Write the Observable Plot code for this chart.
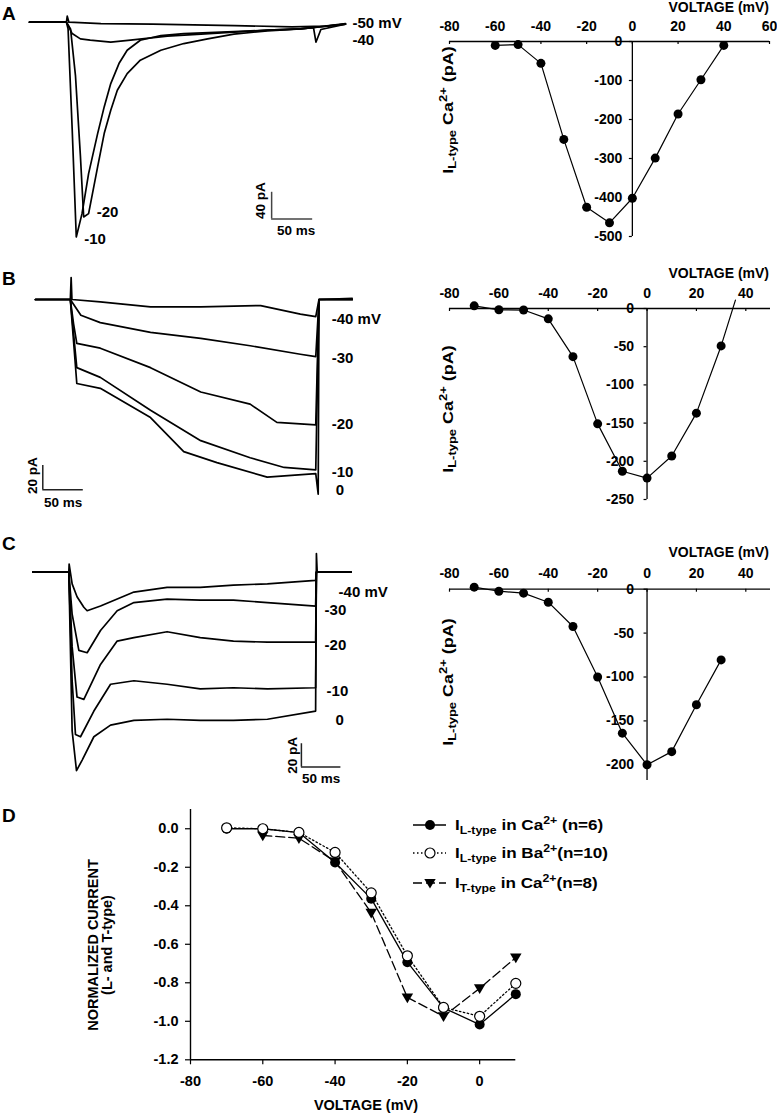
<!DOCTYPE html>
<html><head><meta charset="utf-8">
<script src="https://cdn.jsdelivr.net/npm/d3@7"></script>
<script src="https://cdn.jsdelivr.net/npm/@observablehq/plot@0.6"></script>
<style>
body{margin:0;background:#fff;}
#page{position:relative;width:777px;height:1115px;overflow:hidden;background:#fff;font-family:"Liberation Sans",Arial,sans-serif;font-weight:bold;color:#000;}
.lbl{position:absolute;white-space:nowrap;font-weight:bold;line-height:1;}
.lbl sub,.lbl sup{font-size:72%;line-height:0;}
.lbl sub{vertical-align:-0.35em;}
.lbl sup{vertical-align:0.55em;}
</style></head><body><div id="page"></div>
<script>
// ---------------- DATA ----------------
// Panel A traces (t in ms, I in pA)
const traceA_m50 = [[0,0],[45,0],[46,9],[48,0],[87,-2],[150,-3],[250,-5],[320,-7],[360,-6],[385,-2]];
const traceA_m40 = [[0,0],[45,0],[52,-17],[62,-25],[74,-27],[99,-30],[123,-27],[168,-21],[209,-18],[249,-15],[290,-12],[330,-10],[346,-8],[349,-30],[355,-11],[385,-3]];
const traceA_m20 = [[0,0],[45,0],[50,-10],[56,-80],[62,-200],[66,-292],[72,-287],[83,-217],[91,-167],[99,-132],[107,-102],[119,-77],[135,-57],[160,-42],[188,-32],[217,-25],[249,-18],[290,-13],[330,-10],[385,-3]];
const traceA_m10 = [[0,0],[45,0],[47,-10],[52,-160],[57,-322],[64,-287],[72,-227],[83,-167],[91,-127],[99,-92],[109,-62],[119,-42],[135,-27],[160,-20],[188,-17],[249,-14],[290,-12],[330,-10],[385,-3]];
// Panel B traces
const traceB_m40 = [[0,0],[43,0],[44,18],[45,0],[80,-2],[142,-6],[204,-6],[278,-5],[327,-12],[346,-14],[350,0],[391,1]];
const traceB_m30 = [[0,0],[43,0],[56,-13],[80,-19],[142,-27],[204,-32],[265,-38],[327,-45],[346,-47],[350,0],[391,0]];
const traceB_m20 = [[0,0],[43,0],[47,-20],[51,-36],[80,-40],[142,-56],[204,-76],[265,-86],[298,-101],[346,-103],[350,0],[391,0]];
const traceB_m10 = [[0,0],[43,0],[51,-56],[80,-64],[142,-91],[204,-116],[265,-130],[307,-138],[346,-140],[350,0],[391,0]];
const traceB_0   = [[0,0],[43,0],[51,-69],[80,-73],[142,-97],[183,-125],[224,-134],[286,-146],[346,-143],[349,-160],[350,0],[391,0]];
// Panel C traces
const traceC_m40 = [[0,0],[45.6,0],[46,7],[49.8,-10],[56,-21],[64.6,-30],[68.8,-33],[85.7,-29],[128,-17],[170,-13],[212,-13],[254,-11],[297,-10],[358,-7],[359,0],[403,0]];
const traceC_m30 = [[0,0],[45.6,0],[49.8,-36],[58.3,-67],[68.8,-69],[85.7,-50],[106.8,-33],[128,-26],[170,-23],[212,-24],[254,-24],[297,-26],[358,-29],[359,0],[403,0]];
const traceC_m20 = [[0,0],[45.6,0],[49.8,-64],[56,-107],[64.6,-109],[85.7,-79],[106.8,-59],[128,-56],[170,-51],[212,-56],[254,-59],[297,-60],[358,-60],[359,0],[403,0]];
const traceC_m10 = [[0,0],[45.6,0],[49.8,-93],[54,-139],[60.4,-141],[77.3,-119],[98.4,-96],[128,-93],[170,-96],[212,-100],[254,-99],[297,-100],[358,-99],[359,0],[403,0]];
const traceC_0   = [[0,0],[45.6,0],[49.8,-136],[55.3,-170],[62.5,-161],[77.3,-141],[98.4,-131],[128,-127],[170,-126],[212,-127],[254,-127],[297,-126],[358,-119],[359,16],[360,0],[403,0]];

// I-V curves (mV, pA)
const ivA_volt = [-60,-50,-40,-30,-20,-10,0,10,20,30,40];
const ivA_curr = [-10,-8,-56,-251,-425,-465,-402,-299,-186,-98,-10];
const ivB_volt = [-70,-60,-50,-40,-30,-20,-10,0,10,20,30];
const ivB_curr = [3.5,-1.7,-2,-13.5,-63,-151,-213,-222,-193,-137,-49];
const ivB_ext  = [{v:35.8, i:11}];
const ivC_volt = [-70,-60,-50,-40,-30,-20,-10,0,10,20,30];
const ivC_curr = [2.3,-2.3,-4.5,-14.8,-42.5,-100,-164,-200,-185,-131.6,-80.5];

const ivA_xTicks = [-80,-60,-40,-20,0,20,40,60];
const ivA_yTicks = [0,-100,-200,-300,-400,-500];
const ivBC_xTicks = [-80,-60,-40,-20,0,20,40];
const ivB_yTicks = [0,-50,-100,-150,-200,-250];
const ivC_yTicks = [0,-50,-100,-150,-200];

// Panel D normalized I-V
const dVolt   = [-70,-60,-50,-40,-30,-20,-10,0,10];
const dCaL    = [0.0,0.0,-0.02,-0.175,-0.363,-0.693,-0.93,-1.017,-0.859];
const dBaL    = [0.005,0.0,-0.019,-0.123,-0.333,-0.66,-0.928,-0.974,-0.803];
const dTVolt  = [-60,-50,-40,-30,-20,-10,0,10];
const dTCa    = [-0.035,-0.049,-0.17,-0.436,-0.876,-0.974,-0.829,-0.669];
const dXTicks = [-80,-60,-40,-20,0];
const dYTicks = [0,-0.2,-0.4,-0.6,-0.8,-1.0,-1.2];

// ---------------- RENDERING ----------------
const page = document.getElementById("page");
const FONT = '"Liberation Sans", Arial, sans-serif';

function layer(opts){
  const svg = Plot.plot({width:777, height:1115, margin:0, ...opts,
    style:{background:"transparent", fontFamily:FONT, fontSize:"14px", fontWeight:"bold", overflow:"visible"}});
  svg.style.position = "absolute"; svg.style.left = "0"; svg.style.top = "0";
  page.appendChild(svg);
}
function label(html, x, y, {size=14, anchor="start", rotate=0, lh=1, sx=1}={}){
  const d = document.createElement("div");
  d.className = "lbl"; d.innerHTML = html;
  d.style.left = x+"px"; d.style.top = y+"px"; d.style.fontSize = size+"px"; d.style.lineHeight = lh;
  const tx = anchor==="start" ? "0" : anchor==="middle" ? "-50%" : "-100%";
  if (anchor==="start") d.style.transformOrigin = "0 50%";
  d.style.transform = `translate(${tx},-50%)` + (rotate ? ` rotate(${rotate}deg)` : "") + (sx!==1 ? ` scaleX(${sx})` : "");
  if (lh !== 1) d.style.textAlign = "center";
  page.appendChild(d);
}
const per = (dom, rng) => Math.abs((dom[1]-dom[0])/(rng[1]-rng[0])); // data units per px

// ---- Trace panels ----
function traceLayer({traces, xDomain, xRange, yDomain, yRange, bar, barColor, labels}){
  const marks = [];
  for (const tr of traces) marks.push(Plot.line(tr.data, {x:d=>d[0], y:d=>d[1], stroke:"black", strokeWidth:1.7, strokeLinejoin:"round"}));
  marks.push(Plot.ruleX([bar], {x:d=>d.t, y1:d=>d.i, y2:d=>d.i+d.di, stroke:barColor, strokeWidth:1.5}));
  marks.push(Plot.ruleY([bar], {y:d=>d.i, x1:d=>d.t, x2:d=>d.t+d.dt, stroke:barColor, strokeWidth:1.5}));
  marks.push(Plot.text([bar], {x:d=>d.t, y:d=>d.i+d.di/2, text:d=>d.diText, rotate:-90, dx:bar.ldx, dy:bar.ldy, fontSize:13.5, fontWeight:"bold", fill:"black"}));
  marks.push(Plot.text([bar], {x:d=>d.t+d.dt/2, y:d=>d.i, text:d=>d.dtText, dx:bar.tdx, dy:bar.tdy, fontSize:13.5, fontWeight:"bold", fill:"black"}));
  for (const lb of labels){
    const tr = traces.find(t=>t.key===lb.key).data;
    let p;
    if (lb.at === "peak") p = tr.reduce((a,b)=> b[1]<a[1]?b:a);
    else p = tr.filter(d=>d[0]<=lb.at).pop();
    marks.push(Plot.text([p], {x:d=>d[0], y:d=>d[1], text:()=>lb.text, textAnchor:"start", dx:lb.dx, dy:lb.dy, fontSize:15, fontWeight:"bold", fill:"black"}));
  }
  layer({x:{domain:xDomain, range:xRange, axis:null}, y:{domain:yDomain, range:yRange, axis:null}, marks});
}

traceLayer({
  traces:[{key:"m50",data:traceA_m50},{key:"m40",data:traceA_m40},{key:"m20",data:traceA_m20},{key:"m10",data:traceA_m10}],
  xDomain:[0,385], xRange:[29,345], yDomain:[-330,0], yRange:[21.7+330*0.667, 21.7],
  bar:{t:295, i:-295, dt:50, di:40, diText:"40 pA", dtText:"50 ms", ldx:-11, ldy:-5, tdx:4, tdy:12},
  barColor:"#444",
  labels:[{key:"m50",text:"-50 mV",at:400,dx:7,dy:0},{key:"m40",text:"-40",at:400,dx:7,dy:16},
          {key:"m20",text:"-20",at:"peak",dx:13,dy:-5},{key:"m10",text:"-10",at:"peak",dx:8,dy:2}]
});
traceLayer({
  traces:[{key:"m40",data:traceB_m40},{key:"m30",data:traceB_m30},{key:"m20",data:traceB_m20},{key:"m10",data:traceB_m10},{key:"0",data:traceB_0}],
  xDomain:[0,391], xRange:[35,35+391*0.81], yDomain:[-160,0], yRange:[299+160*1.217, 299],
  bar:{t:9, i:-156.4, dt:50, di:20, diText:"20 pA", dtText:"50 ms", ldx:-10, ldy:-2, tdx:0, tdy:12.5},
  barColor:"#222",
  labels:[{key:"m40",text:"-40 mV",at:346,dx:16,dy:3},{key:"m30",text:"-30",at:346,dx:16,dy:1.5},
          {key:"m20",text:"-20",at:346,dx:16,dy:-1},{key:"m10",text:"-10",at:346,dx:16,dy:2},{key:"0",text:"0",at:346,dx:20,dy:17}]
});
traceLayer({
  traces:[{key:"m40",data:traceC_m40},{key:"m30",data:traceC_m30},{key:"m20",data:traceC_m20},{key:"m10",data:traceC_m10},{key:"0",data:traceC_0}],
  xDomain:[0,403], xRange:[32.3,32.3+403*0.79], yDomain:[-170,0], yRange:[571.7+170*1.167, 571.7],
  bar:{t:340, i:-167, dt:50, di:20, diText:"20 pA", dtText:"50 ms", ldx:-8.5, ldy:0, tdx:0, tdy:12},
  barColor:"#222",
  labels:[{key:"m40",text:"-40 mV",at:358,dx:23,dy:12},{key:"m30",text:"-30",at:358,dx:9,dy:4.5},
          {key:"m20",text:"-20",at:358,dx:9,dy:3},{key:"m10",text:"-10",at:358,dx:11,dy:3},{key:"0",text:"0",at:358,dx:20,dy:9}]
});

// ---- I-V panels ----
function ivLayer({volt, curr, ext, xDomain, xRange, yDomain, yRange, xTicks, yTicks, yMin, xLabDy, yLabDx}){
  const pts = volt.map((v,k)=>({v, i:curr[k]}));
  const linePts = ext ? pts.concat(ext) : pts;
  const py = per(yDomain, yRange), px = per(xDomain, xRange);
  layer({x:{domain:xDomain, range:xRange, axis:null}, y:{domain:yDomain, range:yRange, axis:null}, marks:[
    Plot.ruleY([0], {x1:xDomain[0], x2:xDomain[1], stroke:"black", strokeWidth:1.3}),
    Plot.ruleX([0], {y1:yMin, y2:0, stroke:"black", strokeWidth:1.3}),
    Plot.ruleX(xTicks, {x:d=>d, y1:0, y2:-3*py, stroke:"black", strokeWidth:1.2}),
    Plot.ruleY(yTicks, {y:d=>d, x1:0, x2:-3*px, stroke:"black", strokeWidth:1.2}),
    Plot.text(xTicks, {x:d=>d, y:0, text:d=>String(d), dy:xLabDy, fontSize:14, fontWeight:"bold", fill:"black"}),
    Plot.text(yTicks, {x:0, y:d=>d, text:d=>String(d), dx:yLabDx, textAnchor:"end", fontSize:14, fontWeight:"bold", fill:"black"}),
    Plot.line(linePts, {x:"v", y:"i", stroke:"black", strokeWidth:1.2}),
    Plot.dot(pts, {x:"v", y:"i", r:4.5, fill:"black"})
  ]});
}
ivLayer({volt:ivA_volt, curr:ivA_curr, xDomain:[-80,60], xRange:[449,769], yDomain:[-500,0], yRange:[236,41],
  xTicks:ivA_xTicks, yTicks:ivA_yTicks, yMin:-500, xLabDy:-15, yLabDx:-10});
ivLayer({volt:ivB_volt, curr:ivB_curr, ext:ivB_ext, xDomain:[-80,50], xRange:[449,770], yDomain:[-250,0], yRange:[499,308],
  xTicks:ivBC_xTicks, yTicks:ivB_yTicks, yMin:-250, xLabDy:-14.5, yLabDx:-13});
ivLayer({volt:ivC_volt, curr:ivC_curr, xDomain:[-80,50], xRange:[449,770], yDomain:[-218,0], yRange:[588.7+218*0.878, 588.7],
  xTicks:ivBC_xTicks, yTicks:ivC_yTicks, yMin:-218, xLabDy:-15.5, yLabDx:-13});

// ---- Panel D ----
const triDown = {draw(ctx, size){ const k = Math.sqrt(size/Math.PI); ctx.moveTo(-1.15*k,-0.8*k); ctx.lineTo(1.15*k,-0.8*k); ctx.lineTo(0,1.15*k); ctx.closePath(); }};
{
  const xDomain=[-80,10], xRange=[190,515.3], yDomain=[-1.2,0.1], yRange=[1059.3,809];
  const py = per(yDomain,yRange), px = per(xDomain,xRange);
  const ca = dVolt.map((v,k)=>({v, i:dCaL[k]}));
  const ba = dVolt.map((v,k)=>({v, i:dBaL[k]}));
  const tt = dTVolt.map((v,k)=>({v, i:dTCa[k]}));
  layer({x:{domain:xDomain, range:xRange, axis:null}, y:{domain:yDomain, range:yRange, axis:null}, marks:[
    Plot.ruleY([-1.2], {x1:-80, x2:10, stroke:"black", strokeWidth:1.4}),
    Plot.ruleX([-80], {y1:-1.2, y2:0.1, stroke:"black", strokeWidth:1.4}),
    Plot.ruleX(dXTicks, {x:d=>d, y1:-1.2, y2:-1.2-5*py, stroke:"black", strokeWidth:1.2}),
    Plot.ruleY(dYTicks, {y:d=>d, x1:-80, x2:-80-5*px, stroke:"black", strokeWidth:1.2}),
    Plot.text(dXTicks, {x:d=>d, y:-1.2, text:d=>String(d), dy:22, fontSize:14.5, fontWeight:"bold", fill:"black"}),
    Plot.text(dYTicks, {x:-80, y:d=>d, text:d=>d.toFixed(1), dx:-12, textAnchor:"end", fontSize:14.5, fontWeight:"bold", fill:"black"}),
    Plot.line(ca, {x:"v", y:"i", stroke:"black", strokeWidth:1.3}),
    Plot.line(ba, {x:"v", y:"i", stroke:"black", strokeWidth:1.3, strokeDasharray:"1.5,2.5"}),
    Plot.line(tt, {x:"v", y:"i", stroke:"black", strokeWidth:1.3, strokeDasharray:"9,4"}),
    Plot.dot(ca, {x:"v", y:"i", r:5, fill:"black"}),
    Plot.dot(tt, {x:"v", y:"i", r:5, fill:"black", symbol:triDown}),
    Plot.dot(ba, {x:"v", y:"i", r:5, fill:"white", stroke:"black", strokeWidth:1.2})
  ]});
}

// Legend for D
const legendRows = [
  {y:825, dash:null, marker:"filled", html:'I<sub>L-type</sub> in Ca<sup>2+</sup> (n=6)'},
  {y:853, dash:"1.5,2.5", marker:"open", html:'I<sub>L-type</sub> in Ba<sup>2+</sup>(n=10)'},
  {y:883, dash:"9,4", marker:"tri", html:'I<sub>T-type</sub> in Ca<sup>2+</sup>(n=8)'}
];
for (const r of legendRows){
  const svg = d3.create("svg").attr("width",34).attr("height",14)
    .style("position","absolute").style("left","413px").style("top",(r.y-7)+"px").style("overflow","visible");
  svg.append("line").attr("x1",0).attr("x2",33).attr("y1",7).attr("y2",7).attr("stroke","black").attr("stroke-width",1.3)
    .attr("stroke-dasharray", r.dash);
  if (r.marker==="filled") svg.append("circle").attr("cx",17).attr("cy",7).attr("r",5).attr("fill","black");
  if (r.marker==="open") svg.append("circle").attr("cx",17).attr("cy",7).attr("r",5).attr("fill","white").attr("stroke","black").attr("stroke-width",1.2);
  if (r.marker==="tri") svg.append("path").attr("d", d3.line()([[17-5.7,3],[17+5.7,3],[17,12.5]])+"Z").attr("fill","black");
  page.appendChild(svg.node());
  label(r.html, 455, r.y, {size:14, sx:1.22});
}

// Panel letters
label("A", 2, 13, {size:19});
label("B", 2, 278, {size:19});
label("C", 2, 543, {size:19});
label("D", 2, 815, {size:19});

// Axis titles of I-V panels
label("VOLTAGE (mV)", 769, 6.5, {size:14, anchor:"end"});
label("VOLTAGE (mV)", 769, 273, {size:14, anchor:"end"});
label("VOLTAGE (mV)", 769, 552, {size:14, anchor:"end"});
const ivY = 'I<sub>L-type</sub> Ca<sup>2+</sup> (pA)';
label(ivY, 447, 110, {size:15, anchor:"middle", rotate:-90, sx:1.2});
label(ivY, 447, 409, {size:15, anchor:"middle", rotate:-90, sx:1.2});
label(ivY, 447, 682, {size:15, anchor:"middle", rotate:-90, sx:1.2});

// Panel D titles
label("VOLTAGE (mV)", 366, 1105, {size:14.5, anchor:"middle"});
label("NORMALIZED CURRENT<br>(L- and T-type)", 101, 945, {size:14.5, anchor:"middle", rotate:-90, lh:0.95});
</script></body></html>
